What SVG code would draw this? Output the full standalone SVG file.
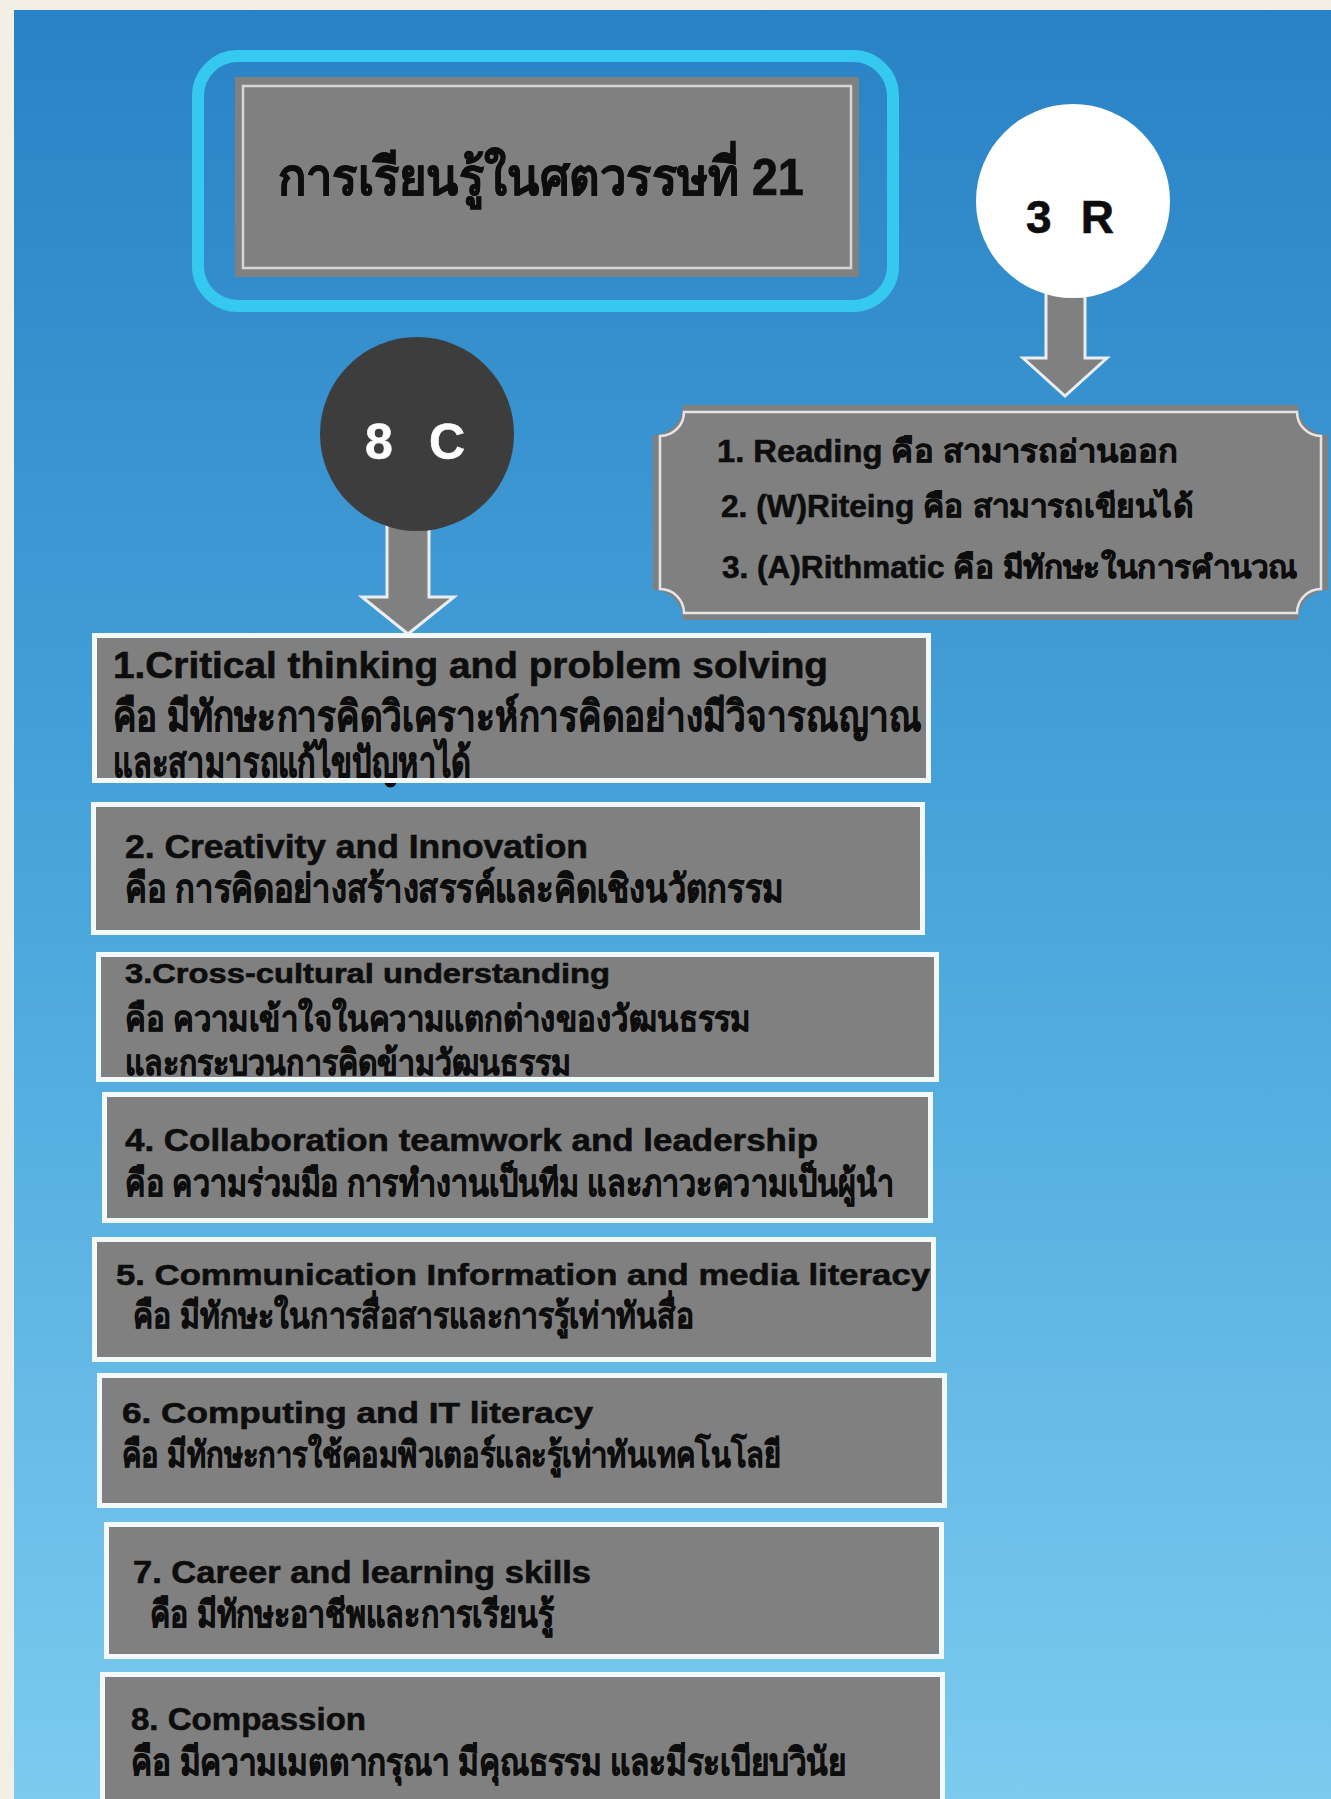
<svg xmlns="http://www.w3.org/2000/svg" width="1331" height="1799" viewBox="0 0 1331 1799">
<defs>
<linearGradient id="bg" x1="0" y1="0" x2="0" y2="1">
<stop offset="0" stop-color="#2982c5"/>
<stop offset="0.5" stop-color="#4aa6dc"/>
<stop offset="1" stop-color="#7ccbef"/>
</linearGradient>
<style>
.t{font-family:"Liberation Sans","Noto Sans","DejaVu Sans",sans-serif;font-weight:bold;fill:#0d0d0d;stroke:#0d0d0d;stroke-width:0.6}
.w{fill:#ffffff;stroke:#ffffff}
.box{fill:#808080}
.edge{fill:none;stroke:#f3f8fb;stroke-width:5}
.inner{fill:none;stroke:#d6d6d6;stroke-width:2.5}
.arrow{fill:#808080;stroke:#e9eef2;stroke-width:3;stroke-linejoin:miter}
</style>
</defs>
<rect x="0" y="0" width="1331" height="1799" fill="#f4efe5"/>
<rect x="14" y="10" width="1317" height="1789" fill="url(#bg)"/>

<g id="connectors">
<polygon class="arrow" points="1046,285 1085,285 1085,358 1107,358 1065,396 1023,358 1046,358"/>
<polygon class="arrow" points="387,515 429,515 429,597 454,597 408,634 362,597 387,597"/>
</g>

<g id="title">
<rect x="198" y="56" width="695" height="250" rx="40" fill="none" stroke="#36c9ef" stroke-width="12"/>
<rect x="235" y="77" width="624" height="200" class="box"/>
<rect x="243" y="86" width="608" height="182" class="inner"/>
<text class="t" x="278" y="195" font-size="52" textLength="526" lengthAdjust="spacingAndGlyphs">การเรียนรู้ในศตวรรษที่ 21</text>
</g>

<g id="node-3r">
<circle cx="1073" cy="201" r="97" fill="#ffffff"/>
<text class="t" x="1026" y="233" font-size="46" textLength="88" lengthAdjust="spacing">3 R</text>
</g>

<g id="node-8c">
<circle cx="417" cy="434" r="97" fill="#3d3d3d"/>
<text class="t w" x="365" y="459" font-size="50" textLength="100" lengthAdjust="spacing">8 C</text>
</g>

<g id="box-3r">
<path class="box" d="M683,405 H1298 A30,30 0 0 0 1328,435 V590 A30,30 0 0 0 1298,620 H683 A30,30 0 0 0 653,590 V435 A30,30 0 0 0 683,405 Z"/>
<path fill="none" stroke="#e6e6e6" stroke-width="2.5" d="M684,412 H1297 A24,24 0 0 0 1321,436 V589 A24,24 0 0 0 1297,613 H684 A24,24 0 0 0 660,589 V436 A24,24 0 0 0 684,412 Z"/>
<text class="t" x="717" y="462" font-size="31" textLength="461" lengthAdjust="spacingAndGlyphs">1. Reading คือ สามารถอ่านออก</text>
<text class="t" x="721" y="517" font-size="31" textLength="472" lengthAdjust="spacingAndGlyphs">2. (W)Riteing คือ สามารถเขียนได้</text>
<text class="t" x="722" y="578" font-size="31" textLength="576" lengthAdjust="spacingAndGlyphs">3. (A)Rithmatic คือ มีทักษะในการคำนวณ</text>
</g>

<g id="c1">
<rect class="box" x="94.5" y="635.5" width="834" height="145"/>
<text class="t" x="113" y="678" font-size="37" textLength="715" lengthAdjust="spacingAndGlyphs">1.Critical thinking and problem solving</text>
<text class="t" x="113" y="731" font-size="42" textLength="808" lengthAdjust="spacingAndGlyphs">คือ มีทักษะการคิดวิเคราะห์การคิดอย่างมีวิจารณญาณ</text>
<text class="t" x="113" y="777" font-size="42" textLength="358" lengthAdjust="spacingAndGlyphs">และสามารถแก้ไขปัญหาได้</text>
<rect class="edge" x="94.5" y="635.5" width="834" height="145"/>
</g>

<g id="c2">
<rect class="box" x="93.5" y="804.5" width="829" height="128"/>
<text class="t" x="125" y="858" font-size="34" textLength="463" lengthAdjust="spacingAndGlyphs">2. Creativity and Innovation</text>
<text class="t" x="125" y="902" font-size="39" textLength="659" lengthAdjust="spacingAndGlyphs">คือ การคิดอย่างสร้างสรรค์และคิดเชิงนวัตกรรม</text>
<rect class="edge" x="93.5" y="804.5" width="829" height="128"/>
</g>

<g id="c3">
<rect class="box" x="98.5" y="954.5" width="838" height="125"/>
<text class="t" x="125" y="983" font-size="28" textLength="485" lengthAdjust="spacingAndGlyphs">3.Cross-cultural understanding</text>
<text class="t" x="125" y="1031" font-size="36" textLength="626" lengthAdjust="spacingAndGlyphs">คือ ความเข้าใจในความแตกต่างของวัฒนธรรม</text>
<text class="t" x="125" y="1075" font-size="36" textLength="446" lengthAdjust="spacingAndGlyphs">และกระบวนการคิดข้ามวัฒนธรรม</text>
<rect class="edge" x="98.5" y="954.5" width="838" height="125"/>
</g>

<g id="c4">
<rect class="box" x="104.5" y="1094.5" width="826" height="126"/>
<text class="t" x="125" y="1151" font-size="32" textLength="693" lengthAdjust="spacingAndGlyphs">4. Collaboration teamwork and leadership</text>
<text class="t" x="125" y="1196" font-size="37" textLength="769" lengthAdjust="spacingAndGlyphs">คือ ความร่วมมือ การทำงานเป็นทีม และภาวะความเป็นผู้นำ</text>
<rect class="edge" x="104.5" y="1094.5" width="826" height="126"/>
</g>

<g id="c5">
<rect class="box" x="94.5" y="1239.5" width="839" height="120"/>
<text class="t" x="116" y="1285" font-size="30" textLength="814" lengthAdjust="spacingAndGlyphs">5. Communication Information and media literacy</text>
<text class="t" x="133" y="1328" font-size="36" textLength="561" lengthAdjust="spacingAndGlyphs">คือ มีทักษะในการสื่อสารและการรู้เท่าทันสื่อ</text>
<rect class="edge" x="94.5" y="1239.5" width="839" height="120"/>
</g>

<g id="c6">
<rect class="box" x="99.5" y="1375.5" width="845" height="130"/>
<text class="t" x="122" y="1423" font-size="30" textLength="471" lengthAdjust="spacingAndGlyphs">6. Computing and IT literacy</text>
<text class="t" x="122" y="1467" font-size="36" textLength="659" lengthAdjust="spacingAndGlyphs">คือ มีทักษะการใช้คอมพิวเตอร์และรู้เท่าทันเทคโนโลยี</text>
<rect class="edge" x="99.5" y="1375.5" width="845" height="130"/>
</g>

<g id="c7">
<rect class="box" x="106.5" y="1524.5" width="835" height="132"/>
<text class="t" x="133" y="1583" font-size="31" textLength="458" lengthAdjust="spacingAndGlyphs">7. Career and learning skills</text>
<text class="t" x="150" y="1627" font-size="37" textLength="404" lengthAdjust="spacingAndGlyphs">คือ มีทักษะอาชีพและการเรียนรู้</text>
<rect class="edge" x="106.5" y="1524.5" width="835" height="132"/>
</g>

<g id="c8">
<rect class="box" x="102.5" y="1674.5" width="840" height="140"/>
<text class="t" x="131" y="1730" font-size="32" textLength="235" lengthAdjust="spacingAndGlyphs">8. Compassion</text>
<text class="t" x="131" y="1775" font-size="38" textLength="715" lengthAdjust="spacingAndGlyphs">คือ มีความเมตตากรุณา มีคุณธรรม และมีระเบียบวินัย</text>
<rect class="edge" x="102.5" y="1674.5" width="840" height="140"/>
</g>
</svg>
